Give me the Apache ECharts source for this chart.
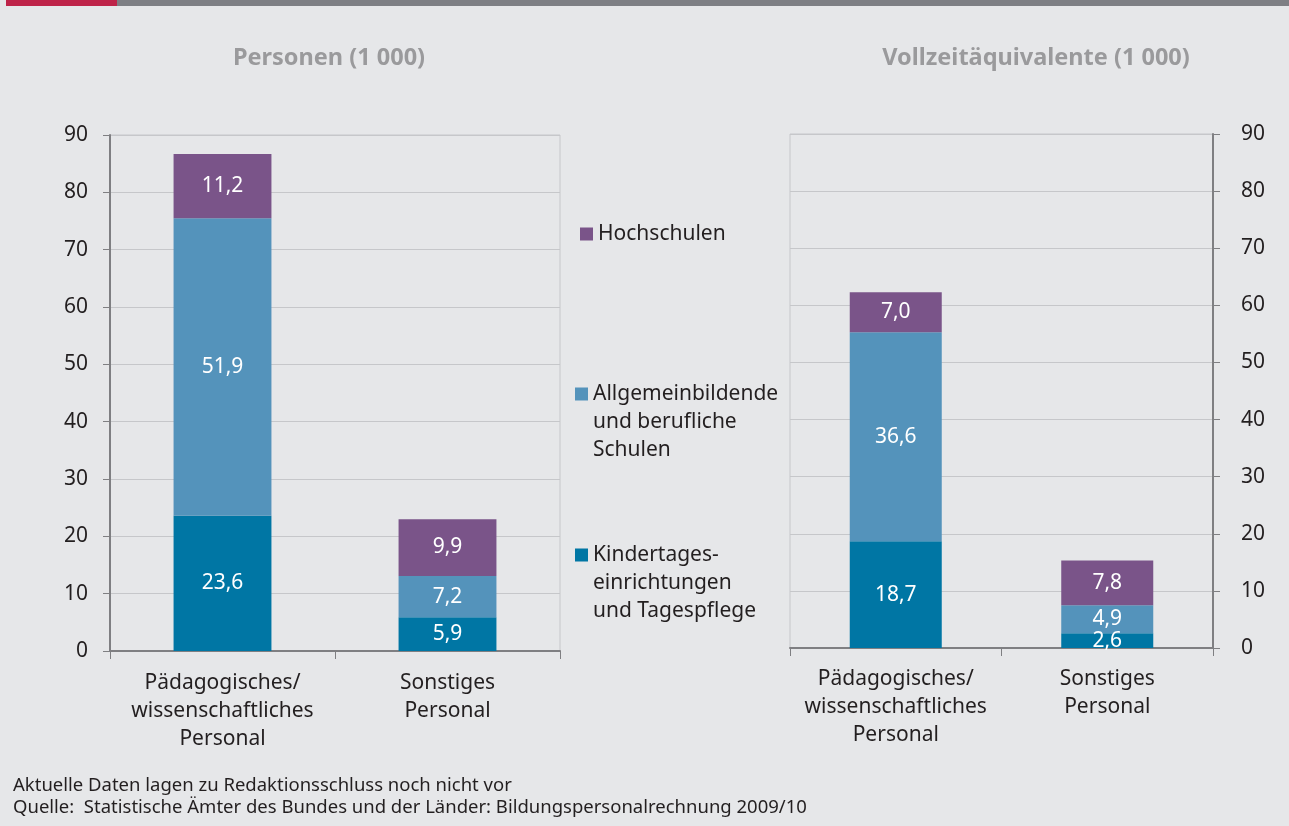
<!DOCTYPE html>
<html>
<head>
<meta charset="utf-8">
<script src="https://cdn.jsdelivr.net/npm/echarts@6/dist/echarts.min.js"></script>
<style>
  html, body { margin: 0; padding: 0; background: #e6e7e9; }
  #chart { width: 1289px; height: 826px; }
</style>
</head>
<body>
<div id="chart"></div>
<script>
// categories and values (1 000)
const categories = ['Pädagogisches/\nwissenschaftliches\nPersonal', 'Sonstiges\nPersonal']
const seriesNames = ['Kindertageseinrichtungen und Tagespflege', 'Allgemeinbildende und berufliche Schulen', 'Hochschulen']
const legendLabels = ['Kindertages-\neinrichtungen\nund Tagespflege', 'Allgemeinbildende\nund berufliche\nSchulen', 'Hochschulen']
const personenKita = [23.6, 5.9]
const personenSchulen = [51.9, 7.2]
const personenHochschulen = [11.2, 9.9]
const vzaKita = [18.7, 2.6]
const vzaSchulen = [36.6, 4.9]
const vzaHochschulen = [7.0, 7.8]
const yMin = 0
const yMax = 90
const yInterval = 10

const colors = ['#0076a4', '#5493bb', '#7a5489']
const font = 'Noto Sans'
const textColor = '#231f20'
const axisGray = '#7f7f82'
const gridGray = '#c6c7ca'
const fs = 21

const chart = echarts.init(document.getElementById('chart'))

function yAxis(gridIndex, position, margin) {
  return {
    type: 'value',
    gridIndex: gridIndex,
    position: position,
    min: yMin,
    max: yMax,
    interval: yInterval,
    axisLine: { show: true, lineStyle: { color: axisGray, width: 2 } },
    axisTick: { show: true, length: 7, lineStyle: { color: axisGray, width: 1 } },
    axisLabel: { color: textColor, fontSize: fs, fontFamily: font, margin: margin },
    splitLine: { show: true, lineStyle: { color: gridGray, width: 1 } }
  }
}

function xAxis(gridIndex, margin) {
  return {
    type: 'category',
    gridIndex: gridIndex,
    data: categories,
    axisLine: { show: true, lineStyle: { color: axisGray, width: 2 } },
    axisTick: { show: true, length: 8, lineStyle: { color: axisGray, width: 1 } },
    axisLabel: { color: textColor, fontSize: fs, fontFamily: font, lineHeight: 28, margin: margin, interval: 0 }
  }
}

function barSeries(name, data, idx, gridIdx) {
  return {
    name: name,
    type: 'bar',
    stack: 'g' + gridIdx,
    xAxisIndex: gridIdx,
    yAxisIndex: gridIdx,
    barWidth: '43.5%',
    data: data,
    itemStyle: { color: colors[idx] },
    label: {
      show: true,
      position: 'inside',
      color: '#fff',
      fontSize: fs,
      fontFamily: font,
      formatter: p => p.value.toFixed(1).replace('.', ',')
    },
    emphasis: { disabled: true }
  }
}

// square sitting on the first of three text lines (invisible dots stretch the box to 84px)
const topSquare = 'path://M0,7.5h13v13h-13z M0,0h0.01v0.01h-0.01z M0,84h0.01v-0.01h-0.01z'

function legendItem(i, left, top, multi) {
  return {
    data: [seriesNames[i]],
    left: left,
    top: top,
    padding: 0,
    icon: multi ? topSquare : 'rect',
    itemWidth: 13,
    itemHeight: multi ? 84 : 13,
    selectedMode: false,
    formatter: () => legendLabels[i],
    textStyle: { color: textColor, fontSize: fs, fontFamily: font, lineHeight: 28 }
  }
}

chart.setOption({
  backgroundColor: '#e6e7e9',
  animation: false,
  title: [
    { text: 'Personen (1 000)', left: 324, top: 41, textAlign: 'center',
      textStyle: { color: '#9a9a9c', fontSize: 23.5, fontWeight: 'bold', fontFamily: font } },
    { text: 'Vollzeitäquivalente (1 000)', left: 1031, top: 41, textAlign: 'center',
      textStyle: { color: '#9a9a9c', fontSize: 23.5, fontWeight: 'bold', fontFamily: font } }
  ],
  legend: [
    legendItem(2, 580, 220, false),
    legendItem(1, 575, 380, true),
    legendItem(0, 575, 541, true)
  ],
  grid: [
    { left: 110, right: 729, top: 135, bottom: 175, show: true, borderColor: gridGray, borderWidth: 1, backgroundColor: 'transparent' },
    { left: 790, right: 76, top: 134, bottom: 178, show: true, borderColor: gridGray, borderWidth: 1, backgroundColor: 'transparent' }
  ],
  xAxis: [xAxis(0, 18), xAxis(1, 17)],
  yAxis: [yAxis(0, 'left', 22), yAxis(1, 'right', 28)],
  series: [
    barSeries(seriesNames[0], personenKita, 0, 0),
    barSeries(seriesNames[1], personenSchulen, 1, 0),
    barSeries(seriesNames[2], personenHochschulen, 2, 0),
    barSeries(seriesNames[0], vzaKita, 0, 1),
    barSeries(seriesNames[1], vzaSchulen, 1, 1),
    barSeries(seriesNames[2], vzaHochschulen, 2, 1)
  ],
  graphic: [
    { type: 'rect', shape: { x: 6, y: 0, width: 111, height: 6 }, style: { fill: '#be2449' } },
    { type: 'rect', shape: { x: 117, y: 0, width: 1172, height: 6 }, style: { fill: '#7e7f84' } },
    { type: 'text', left: 13, top: 776,
      style: { text: 'Aktuelle Daten lagen zu Redaktionsschluss noch nicht vor', fill: textColor, fontSize: 18.5, fontFamily: font } },
    { type: 'text', left: 13, top: 798,
      style: { text: 'Quelle:  Statistische Ämter des Bundes und der Länder: Bildungspersonalrechnung 2009/10', fill: textColor, fontSize: 18.5, fontFamily: font } }
  ]
})
</script>
</body>
</html>
